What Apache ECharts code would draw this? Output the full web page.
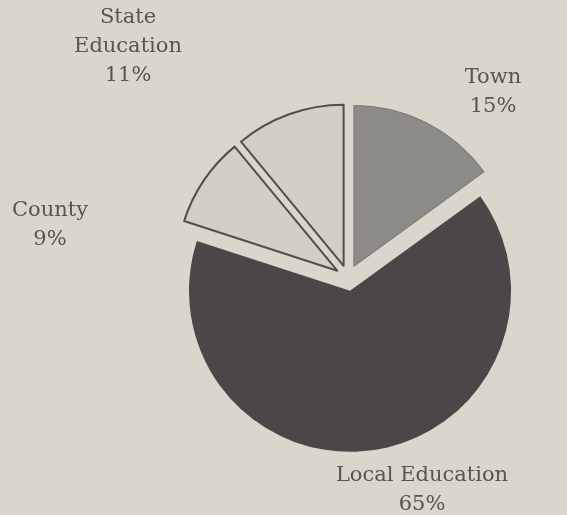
<!DOCTYPE html>
<html>
<head>
<meta charset="utf-8">
<script src="https://cdn.jsdelivr.net/npm/echarts@6/dist/echarts.min.js"></script>
<style>
  html, body { margin: 0; padding: 0; background: #d9d7cc; }
  #main { width: 567px; height: 515px; }
</style>
</head>
<body>
<div id="main"></div>
<script>
// data (clockwise from 12 o'clock)
var categories = ['Town', 'Local Education', 'County', 'State Education'];
var shares = [15, 65, 9, 11];
var labelNames = ['Town', 'Local Education', 'County', 'State\nEducation'];

// styling
var fills = ['#8d8b87', '#4b4647', '#d1cfc6', '#d1cfc6'];
var borders = ['#7a7773', '#4b4647', '#5a4b48', '#5a4b48'];
var borderWidths = [1, 0, 2, 2];
// label block centres, per slice
var labelSpots = [[493, 92], [422, 490], [50, 225], [128, 47]];

var chart = echarts.init(document.getElementById('main'))

// exploded slices
var slices = categories.map(function (c, i) {
  var st = { color: fills[i], borderColor: borders[i], borderWidth: borderWidths[i] }
  return { name: c, value: shares[i], selected: true, itemStyle: st, select: { itemStyle: st } }
})

// labels carried by an invisible, unexploded copy of the pie
var labelled = categories.map(function (c, i) {
  return { name: c, value: shares[i], label: { formatter: labelNames[i] + '\n' + shares[i] + '%' } }
})

chart.setOption({
  backgroundColor: '#d9d7cc',
  animation: false,
  series: [
    {
      type: 'pie',
      center: [348, 278],
      radius: 161,
      startAngle: 90,
      selectedMode: 'multiple',
      selectedOffset: 13,
      label: { show: false },
      labelLine: { show: false },
      emphasis: { disabled: true },
      data: slices
    },
    {
      type: 'pie',
      center: [348, 278],
      radius: 161,
      startAngle: 90,
      silent: true,
      itemStyle: { color: 'rgba(0,0,0,0)', borderWidth: 0 },
      label: {
        show: true,
        overflow: 'none',
        color: '#5a5350',
        fontFamily: 'DejaVu Serif',
        fontSize: 21,
        lineHeight: 29
      },
      labelLine: { show: false },
      labelLayout: function (p) {
        var s = labelSpots[p.dataIndex]
        return { x: s[0], y: s[1], align: 'center', verticalAlign: 'middle' }
      },
      emphasis: { disabled: true },
      data: labelled
    }
  ]
})
</script>
</body>
</html>
